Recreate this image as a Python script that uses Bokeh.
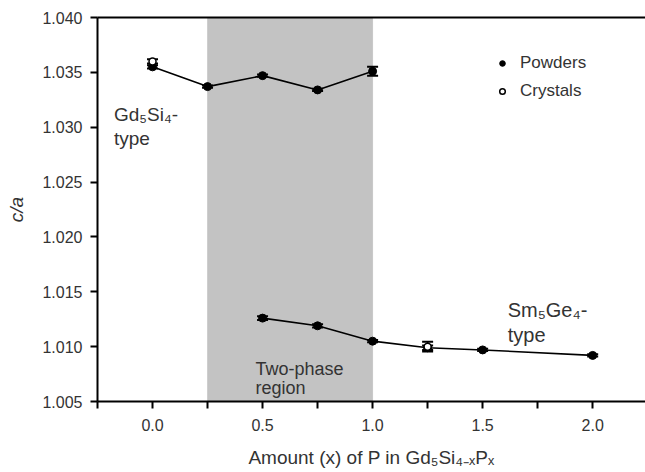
from bokeh.plotting import figure
from bokeh.models import (ColumnDataSource, Whisker, TeeHead, FixedTicker, PrintfTickFormatter,
                          Legend, LegendItem, BoxAnnotation, LinearAxis, Range1d)
from bokeh.core.properties import value
from bokeh.embed import file_html
from bokeh.resources import INLINE

# ---- data ----
powder_hi_x = [0.0, 0.25, 0.5, 0.75, 1.0]
powder_hi_y = [1.0355, 1.0337, 1.0347, 1.0334, 1.0351]
powder_hi_err = [0.00015, 0.0001, 0.0001, 0.0001, 0.0004]

powder_lo_x = [0.5, 0.75, 1.0, 1.25, 1.5, 2.0]
powder_lo_y = [1.0126, 1.0119, 1.0105, 1.0099, 1.0097, 1.0092]
powder_lo_err = [0.00018, 0.00015, 0.0001, 0.0002, 0.0001, 0.0001]

crystal_x = [0.0, 1.25]
crystal_y = [1.0360, 1.0100]
crystal_err = [0.0002, 0.00045]

two_phase = (0.25, 1.0)
x_ticks = [0.0, 0.5, 1.0, 1.5, 2.0]
y_ticks = [1.005, 1.010, 1.015, 1.020, 1.025, 1.030, 1.035, 1.040]

FONT = "Liberation Sans"
TXT = "#333333"

p = figure(width=645, height=472, output_backend="svg", toolbar_location=None,
           x_range=Range1d(-0.25, 2.24), y_range=Range1d(1.005, 1.040),
           x_axis_location=None, y_axis_location=None,
           min_border_left=97, min_border_right=0, min_border_top=17, min_border_bottom=71)
p.outline_line_color = None
p.xgrid.visible = False
p.ygrid.visible = False
p.background_fill_color = "white"

p.add_layout(BoxAnnotation(left=two_phase[0], right=two_phase[1], fill_color="#c3c3c3",
                           fill_alpha=1.0, line_color="#9a9a9a", line_width=1, level="underlay"))

# top border line
top = LinearAxis(major_tick_out=0, major_tick_in=0, minor_tick_out=0, minor_tick_in=0,
                 major_label_text_font_size="0px", axis_line_width=2, axis_line_color="black",
                 ticker=FixedTicker(ticks=[], minor_ticks=[]))
p.add_layout(top, "above")

def series(xs, ys, errs):
    return ColumnDataSource(dict(x=xs, y=ys, lo=[a - b for a, b in zip(ys, errs)],
                                 hi=[a + b for a, b in zip(ys, errs)]))

s_hi = series(powder_hi_x, powder_hi_y, powder_hi_err)
s_lo = series(powder_lo_x, powder_lo_y, powder_lo_err)
s_cr = series(crystal_x, crystal_y, crystal_err)

for s in (s_hi, s_lo, s_cr):
    w = Whisker(source=s, base="x", upper="hi", lower="lo", line_color="black", line_width=1.5,
                upper_head=TeeHead(size=11, line_color="black", line_width=2),
                lower_head=TeeHead(size=11, line_color="black", line_width=2))
    p.add_layout(w)

p.line("x", "y", source=s_hi, line_color="black", line_width=1.6)
p.line("x", "y", source=s_lo, line_color="black", line_width=1.6)
r_pow = p.scatter("x", "y", source=s_hi, size=8, fill_color="black", line_color="black")
p.scatter("x", "y", source=s_lo, size=8, fill_color="black", line_color="black")
r_cr = p.scatter("x", "y", source=s_cr, size=7, fill_color="white", line_color="black", line_width=1.5)

legend = Legend(items=[LegendItem(label="Powders", renderers=[r_pow]),
                       LegendItem(label="Crystals", renderers=[r_cr])],
                location=(398, 300), border_line_color=None, background_fill_alpha=0,
                padding=0, margin=0, spacing=8, glyph_width=14, glyph_height=20,
                label_height=20, label_standoff=11,
                label_text_font=FONT, label_text_font_size="17px", label_text_color=TXT)
p.add_layout(legend)

# annotations
tf = value(FONT)
p.text(x=[-0.175, -0.175], y=[1.0312, 1.0290], text=["Gd\u2085Si\u2084-", "type"],
       text_font=tf, text_font_size="19px", text_color=TXT, text_baseline="alphabetic")
p.text(x=[1.614, 1.614], y=[1.0133, 1.0111], text=["Sm\u2085Ge\u2084-", "type"],
       text_font=tf, text_font_size="20px", text_color=TXT, text_baseline="alphabetic")
p.text(x=[0.468, 0.468], y=[1.0080, 1.0062], text=["Two-phase", "region"],
       text_font=tf, text_font_size="18px", text_color=TXT, text_baseline="alphabetic")

# axes
xa = LinearAxis(ticker=FixedTicker(ticks=x_ticks, minor_ticks=[-0.25, 0.25, 0.75, 1.25, 1.75, 2.25]),
                formatter=PrintfTickFormatter(format="%.1f"))
ya = LinearAxis(ticker=FixedTicker(ticks=y_ticks, minor_ticks=[]),
                formatter=PrintfTickFormatter(format="%.3f"))
p.add_layout(xa, "below")
p.add_layout(ya, "left")
for ax in (xa, ya):
    ax.axis_line_width = 2
    ax.axis_line_color = "black"
    ax.major_tick_line_width = 2
    ax.minor_tick_line_width = 2
    ax.major_tick_out = 7
    ax.major_tick_in = 0
    ax.minor_tick_out = 7
    ax.minor_tick_in = 0
    ax.major_label_text_font = FONT
    ax.major_label_text_font_size = "16px"
    ax.major_label_text_color = TXT
    ax.axis_label_text_font = FONT
    ax.axis_label_text_font_size = "19px"
    ax.axis_label_text_color = TXT
    ax.axis_label_text_font_style = "normal"
xa.major_label_standoff = 10
xa.axis_label = "Amount (x) of P in Gd\u2085Si\u2084\u208b\u2093P\u2093"
xa.axis_label_standoff = 13
ya.axis_label = "c/a"
ya.axis_label_text_font_style = "italic"
ya.major_label_standoff = 8
ya.axis_label_standoff = 12

open("out.html", "w").write(file_html(p, INLINE))
